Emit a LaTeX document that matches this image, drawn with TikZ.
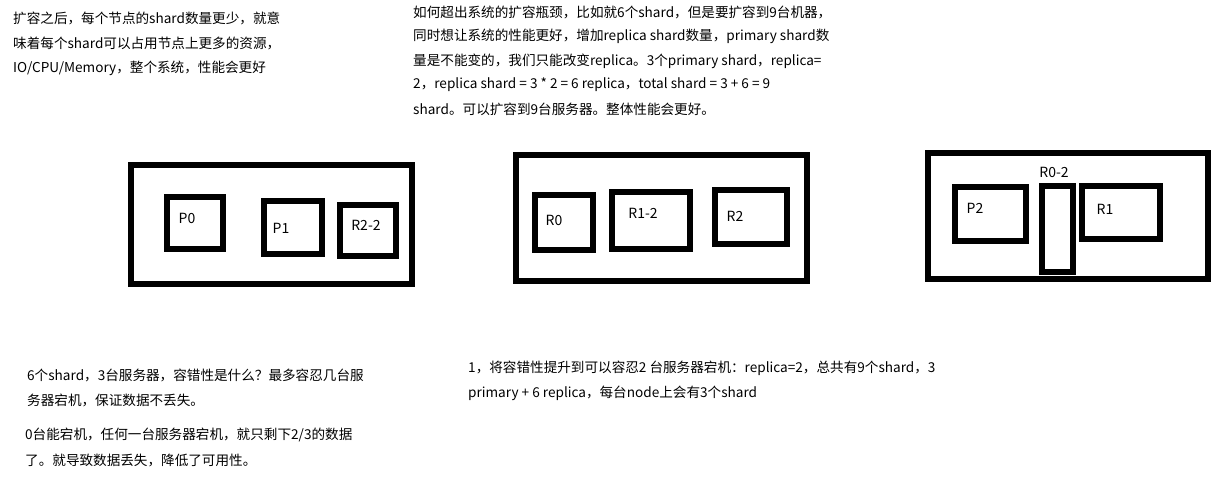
\documentclass[tikz,border=0pt]{standalone}
\usepackage{fontspec}
\setmainfont{Noto Sans CJK SC}
\begin{document}
\begin{tikzpicture}[x=1pt,y=-1pt,
  outerbox/.style={draw=black,line width=6.5pt,rectangle,inner sep=0pt,fill=white},
  innerbox/.style={draw=black,line width=5.5pt,rectangle,inner sep=0pt,fill=white},
  lbl/.style={inner sep=0pt,font=\fontsize{14}{16}\selectfont},
  txt/.style={inner sep=0pt,anchor=west,font=\fontsize{13.6}{15}\selectfont}]
\useasboundingbox[fill=white] (0,0) rectangle (1224,487);
% text block 1
\node[txt] (t11) at (13,18) {扩容之后，每个节点的shard数量更少，就意};
\node[txt] (t12) at (13,43) {味着每个shard可以占用节点上更多的资源，};
\node[txt] (t13) at (13,68) {IO/CPU/Memory，整个系统，性能会更好};
% text block 2
\node[txt] (t21) at (413,12) {如何超出系统的扩容瓶颈，比如就6个shard，但是要扩容到9台机器，};
\node[txt] (t22) at (413,36) {同时想让系统的性能更好，增加replica shard数量，primary shard数};
\node[txt] (t23) at (413,61) {量是不能变的，我们只能改变replica。3个primary shard，replica=};
\node[txt] (t24) at (413,85) {2，replica shard = 3 * 2 = 6 replica，total shard = 3 + 6 = 9};
\node[txt] (t25) at (413,109) {shard。可以扩容到9台服务器。整体性能会更好。};
% box 1
\node[outerbox,minimum width=281pt,minimum height=119pt] (n1) at (271.5,224.5) {};
\node[innerbox,minimum width=56pt,minimum height=52pt] (p0) at (195,223) {};
\node[innerbox,minimum width=58pt,minimum height=53pt] (p1) at (293,227.5) {};
\node[innerbox,minimum width=56pt,minimum height=51pt] (r22) at (368,230.5) {};
\node[lbl] (lp0) at (187,218) {P0};
\node[lbl] (lp1) at (281,228) {P1};
\node[lbl] (lr22) at (366,225) {R2-2};
% box 2
\node[outerbox,minimum width=291pt,minimum height=126pt] (n2) at (661.5,218) {};
\node[innerbox,minimum width=58pt,minimum height=55pt] (r0) at (564,222.5) {};
\node[innerbox,minimum width=78pt,minimum height=57pt] (r12) at (651,220.5) {};
\node[innerbox,minimum width=72pt,minimum height=54pt] (r2) at (751,217) {};
\node[lbl] (lr0) at (554,220) {R0};
\node[lbl] (lr12) at (643,213) {R1-2};
\node[lbl] (lr2) at (735,216) {R2};
% box 3
\node[outerbox,minimum width=280pt,minimum height=126pt] (n3) at (1068,216) {};
\node[innerbox,minimum width=71pt,minimum height=54pt] (p2) at (990.5,214) {};
\node[innerbox,minimum width=31pt,minimum height=86pt] (r02) at (1057.5,229) {};
\node[innerbox,minimum width=78pt,minimum height=53pt] (r1) at (1121,212.5) {};
\node[lbl] (lr02) at (1054,172) {R0-2};
\node[lbl] (lp2) at (975,208) {P2};
\node[lbl] (lr1) at (1105,209) {R1};
% text block 3
\node[txt] (t31) at (27,375) {6个shard，3台服务器，容错性是什么？最多容忍几台服};
\node[txt] (t32) at (27,400) {务器宕机，保证数据不丢失。};
\node[txt] (t33) at (25,435) {0台能宕机，任何一台服务器宕机，就只剩下2/3的数据};
\node[txt] (t34) at (25,460) {了。就导致数据丢失，降低了可用性。};
% text block 4
\node[txt] (t41) at (468,368) {1，将容错性提升到可以容忍2 台服务器宕机：replica=2，总共有9个shard，3};
\node[txt] (t42) at (468,393) {primary + 6 replica，每台node上会有3个shard};
\end{tikzpicture}
\end{document}
